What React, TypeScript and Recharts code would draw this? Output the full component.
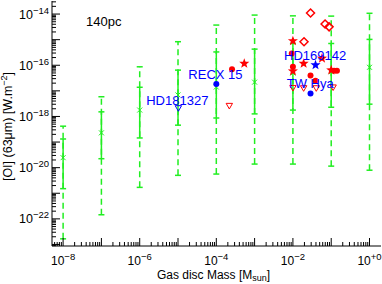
import React from 'react';
import { ScatterChart, Scatter, XAxis, YAxis, ErrorBar } from 'recharts';

const FONT = '"Liberation Sans", Arial, Helvetica, sans-serif';
const GREEN = '#22ee22';
const RED = '#ff0000';
const BLUE = '#0000ff';

// ---- model grid (log10 values) ----
const modelLogMass = [-8, -7, -6, -5, -4, -3, -2, -1, 0];
const modelLogFlux = [-19.61, -18.64, -17.75, -17.16, -16.85, -16.66, -16.3, -16.25, -16.08];
const modelInnerLow = [-20.82, -19.65, -18.84, -18.34, -18.06, -17.9, -17.75, -17.64, -17.52];
const modelInnerHigh = [-18.88, -17.82, -16.86, -16.19, -15.48, -15.37, -15.15, -15.15, -14.99];
const modelOuterLow = [-22.78, -21.84, -20.77, -20.3, -20.25, -19.86, -19.86, -19.94, -20.1];
const modelOuterHigh = [-18.38, -17.23, -16.06, -15.08, -14.43, -14.04, -14.07, -14.08, -13.97];

// ---- observations (log10 mass, log10 flux) ----
const redStarMass = [-2.0, -1.72, -1.24, -2.0, -1.0, -3.27];
const redStarFlux = [-15.05, -15.93, -15.73, -16.23, -16.19, -15.93];
const redDotMass = [-2.03, -2.0, -1.54, -1.41, -0.925, -0.85, -3.59];
const redDotFlux = [-15.54, -16.06, -16.4, -16.61, -16.21, -16.21, -16.16];
const redDiamondMass = [-1.54, -1.16, -1.055, -1.71];
const redDiamondFlux = [-13.96, -14.39, -14.5, -15.08];
const redLimitMass = [-3.66, -2.0, -1.72, -1.39, -0.95];
const redLimitFlux = [-17.59, -16.89, -16.9, -16.9, -16.87];
const blueStarMass = [-1.41];
const blueStarFlux = [-15.99];
const blueDotMass = [-1.54, -4.0];
const blueDotFlux = [-17.1, -16.73];
const blueLimitMass = [-4.99];
const blueLimitFlux = [-17.68];

// ---- text labels (anchored in data coordinates, log10) ----
const labelText = ['HD181327', 'RECX 15', 'HD169142', 'TW Hya'];
const labelMass = [-5.83, -4.73, -2.23, -2.16];
const labelFlux = [-17.55, -16.54, -15.8, -16.89];
const noteText = ['140pc'];
const noteMass = [-7.4];
const noteFlux = [-14.45];

const xDomain = [Math.pow(10, -8.29), Math.pow(10, 0.3)];
const yDomain = [Math.pow(10, -23.06), Math.pow(10, -13.49)];

const p10 = (v: number) => Math.pow(10, v);

function logTicks(lo: number, hi: number) {
  const out: number[] = [];
  for (let d = Math.floor(lo); d <= Math.ceil(hi); d++) {
    for (let k = 1; k <= 9; k++) {
      const v = k * Math.pow(10, d);
      const lv = Math.log10(v);
      if (lv >= lo - 1e-9 && lv <= hi + 1e-9) out.push(v);
    }
  }
  return out;
}
const xTicks = logTicks(-8.29, 0.3);
const yTicks = logTicks(-23.06, -13.49);

const modelData = modelLogMass.map((m, i) => {
  const c = p10(modelLogFlux[i]);
  return {
    x: p10(m),
    y: c,
    inner: [c - p10(modelInnerLow[i]), p10(modelInnerHigh[i]) - c],
    outer: [c - p10(modelOuterLow[i]), p10(modelOuterHigh[i]) - c],
  };
});
const pts = (ms: number[], fs: number[]) => ms.map((m, i) => ({ x: p10(m), y: p10(fs[i]) }));
const redStars = pts(redStarMass, redStarFlux);
const redDots = pts(redDotMass, redDotFlux);
const redDiamonds = pts(redDiamondMass, redDiamondFlux);
const redLimits = pts(redLimitMass, redLimitFlux);
const blueStars = pts(blueStarMass, blueStarFlux);
const blueDots = pts(blueDotMass, blueDotFlux);
const blueLimits = pts(blueLimitMass, blueLimitFlux);
const labels = labelText.map((t, i) => ({ x: p10(labelMass[i]), y: p10(labelFlux[i]), text: t }));
const notes = noteText.map((t, i) => ({ x: p10(noteMass[i]), y: p10(noteFlux[i]), text: t }));

function decadeInfo(v: number) {
  const lg = Math.log10(v);
  const r = Math.round(lg);
  return { major: Math.abs(lg - r) < 1e-6, r };
}
const expText = (r: number) => (r === 0 ? '+0' : r > 0 ? '+' + r : '\u2212' + -r);

const BottomTick = (props: any) => {
  const { x, y, payload } = props;
  const { major, r } = decadeInfo(payload.value);
  return (
    <g>
      <line x1={x} x2={x} y1={y} y2={y - (major ? 8 : 4)} stroke="#000" strokeWidth={1} />
      {major && r % 2 === 0 && (
        <text x={x} y={y + 19} textAnchor="middle" fontSize={12} fontFamily={FONT} fill="#000">
          10<tspan dy={-5} fontSize={9.5}>{expText(r)}</tspan>
        </text>
      )}
    </g>
  );
};
const TopTick = (props: any) => {
  const { x, y, payload } = props;
  const { major } = decadeInfo(payload.value);
  return <line x1={x} x2={x} y1={y} y2={y + (major ? 8 : 4)} stroke="#000" strokeWidth={1} />;
};
const LeftTick = (props: any) => {
  const { x, y, payload } = props;
  const { major, r } = decadeInfo(payload.value);
  return (
    <g>
      <line x1={x} x2={x + (major ? 8 : 4)} y1={y} y2={y} stroke="#000" strokeWidth={1} />
      {major && r % 2 === 0 && (
        <text x={x - 3} y={y + 4.5} textAnchor="end" fontSize={12.5} fontFamily={FONT} fill="#000">
          10<tspan dy={-5} fontSize={9.5}>{expText(r)}</tspan>
        </text>
      )}
    </g>
  );
};
const RightTick = (props: any) => {
  const { x, y, payload } = props;
  const { major } = decadeInfo(payload.value);
  return <line x1={x} x2={x - (major ? 8 : 4)} y1={y} y2={y} stroke="#000" strokeWidth={1} />;
};

const starPoints = (cx: number, cy: number, R: number, r: number) => {
  const a: string[] = [];
  for (let i = 0; i < 10; i++) {
    const ang = (-90 + i * 36) * Math.PI / 180;
    const rad = i % 2 === 0 ? R : r;
    a.push(`${cx + rad * Math.cos(ang)},${cy + rad * Math.sin(ang)}`);
  }
  return a.join(' ');
};
const StarShape = (color: string) => (p: any) => (
  <polygon points={starPoints(p.cx, p.cy, 5.3, 2.2)} fill={color} stroke="none" />
);
const DotShape = (color: string) => (p: any) => <circle cx={p.cx} cy={p.cy} r={3} fill={color} />;
const DiamondShape = (p: any) => (
  <polygon
    points={`${p.cx},${p.cy - 4} ${p.cx + 4},${p.cy} ${p.cx},${p.cy + 4} ${p.cx - 4},${p.cy}`}
    fill="none"
    stroke={RED}
    strokeWidth={1.5}
  />
);
const TriShape = (color: string) => (p: any) => (
  <polygon
    points={`${p.cx - 3.2},${p.cy - 2.6} ${p.cx + 3.2},${p.cy - 2.6} ${p.cx},${p.cy + 3}`}
    fill="none"
    stroke={color}
    strokeWidth={1}
  />
);
const CrossShape = (p: any) => (
  <g stroke={GREEN} strokeWidth={1}>
    <line x1={p.cx - 2.5} y1={p.cy - 2.5} x2={p.cx + 2.5} y2={p.cy + 2.5} />
    <line x1={p.cx - 2.5} y1={p.cy + 2.5} x2={p.cx + 2.5} y2={p.cy - 2.5} />
  </g>
);
const TextShape = (color: string) => (p: any) => (
  <text x={p.cx} y={p.cy} fontSize={13} fontFamily={FONT} fill={color}>
    {p.payload.text}
  </text>
);

const XTitle = (props: any) => {
  const vb = props.viewBox || { x: 52, y: 246, width: 329, height: 38 };
  return (
    <text x={vb.x + vb.width / 2 - 3} y={vb.y + 33} textAnchor="middle" fontSize={12} fontFamily={FONT} fill="#000">
      Gas disc Mass [M<tspan dy={2} fontSize={9}>sun</tspan>
      <tspan dy={-2}>]</tspan>
    </text>
  );
};
const YTitle = (props: any) => {
  const vb = props.viewBox || { x: 0, y: 1, width: 52, height: 245 };
  const cx = 12;
  const cy = vb.y + vb.height / 2 + 3;
  return (
    <text x={cx} y={cy} transform={`rotate(-90 ${cx} ${cy})`} textAnchor="middle" fontSize={12.5} fontFamily={FONT} fill="#000">
      [OI] (63{'\u03bc'}m) [W.m<tspan dy={-5} fontSize={9}>{'\u2212'}2</tspan>
      <tspan dy={5}>]</tspan>
    </text>
  );
};

export default function App() {
  return (
    <div style={{ position: 'absolute', left: 0, top: 0, background: '#fff' }}>
      <ScatterChart width={382} height={284} margin={{ top: 1, right: 1, bottom: 0, left: 0 }}>
        <XAxis
          xAxisId="b"
          dataKey="x"
          type="number"
          scale="log"
          domain={xDomain}
          allowDataOverflow
          ticks={xTicks}
          interval={0}
          tickSize={0}
          tickMargin={0}
          tickLine={false}
          tick={(p: any) => <BottomTick {...p} />}
          axisLine={{ stroke: '#000' }}
          height={38}
          orientation="bottom"
          label={<XTitle />}
        />
        <XAxis
          xAxisId="t"
          dataKey="x"
          type="number"
          scale="log"
          domain={xDomain}
          allowDataOverflow
          ticks={xTicks}
          interval={0}
          tickSize={0}
          tickMargin={0}
          tickLine={false}
          tick={(p: any) => <TopTick {...p} />}
          axisLine={{ stroke: '#000' }}
          height={0}
          orientation="top"
        />
        <YAxis
          yAxisId="l"
          dataKey="y"
          type="number"
          scale="log"
          domain={yDomain}
          allowDataOverflow
          ticks={yTicks}
          interval={0}
          tickSize={0}
          tickMargin={0}
          tickLine={false}
          tick={(p: any) => <LeftTick {...p} />}
          axisLine={{ stroke: '#000' }}
          width={52}
          orientation="left"
          label={<YTitle />}
        />
        <YAxis
          yAxisId="r"
          dataKey="y"
          type="number"
          scale="log"
          domain={yDomain}
          allowDataOverflow
          ticks={yTicks}
          interval={0}
          tickSize={0}
          tickMargin={0}
          tickLine={false}
          tick={(p: any) => <RightTick {...p} />}
          axisLine={{ stroke: '#000' }}
          width={0}
          orientation="right"
        />
        <Scatter data={modelData} xAxisId="b" yAxisId="l" shape={CrossShape} isAnimationActive={false}>
          <ErrorBar dataKey="outer" direction="y" width={3} stroke={GREEN} strokeWidth={1.5} strokeDasharray="6 4" isAnimationActive={false} />
          <ErrorBar dataKey="inner" direction="y" width={3} stroke={GREEN} strokeWidth={1.5} isAnimationActive={false} />
        </Scatter>
        <Scatter data={redDiamonds} xAxisId="b" yAxisId="l" shape={DiamondShape} isAnimationActive={false} />
        <Scatter data={redLimits} xAxisId="b" yAxisId="l" shape={TriShape(RED)} isAnimationActive={false} />
        <Scatter data={redDots} xAxisId="b" yAxisId="l" shape={DotShape(RED)} isAnimationActive={false} />
        <Scatter data={redStars} xAxisId="b" yAxisId="l" shape={StarShape(RED)} isAnimationActive={false} />
        <Scatter data={blueLimits} xAxisId="b" yAxisId="l" shape={TriShape(BLUE)} isAnimationActive={false} />
        <Scatter data={blueDots} xAxisId="b" yAxisId="l" shape={DotShape(BLUE)} isAnimationActive={false} />
        <Scatter data={blueStars} xAxisId="b" yAxisId="l" shape={StarShape(BLUE)} isAnimationActive={false} />
        <Scatter data={labels} xAxisId="b" yAxisId="l" shape={TextShape(BLUE)} isAnimationActive={false} />
        <Scatter data={notes} xAxisId="b" yAxisId="l" shape={TextShape('#000')} isAnimationActive={false} />
      </ScatterChart>
    </div>
  );
}
